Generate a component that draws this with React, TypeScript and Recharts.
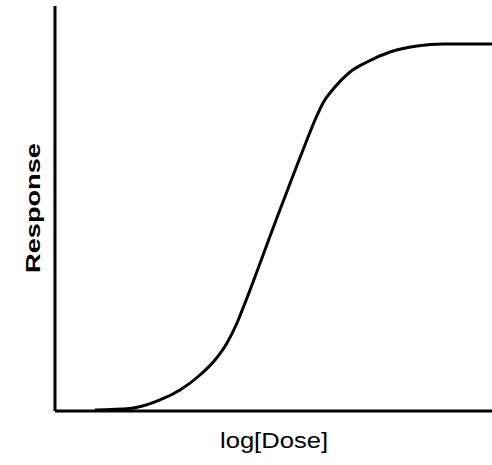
import React from 'react';
import { LineChart, Line, XAxis, YAxis, Label } from 'recharts';

const logDose = [9.15, 17.16, 24.03, 28.6, 33.18, 36.61, 39.36, 41.65, 43.48, 50.34, 56.75, 59.5, 61.33, 64.07, 67.51, 71.4, 76.66, 82.84, 88.79, 100];
const response = [0.25, 0.6, 2.72, 5.19, 8.89, 12.59, 16.79, 21.73, 26.67, 46.42, 64.44, 71.85, 76.05, 80.0, 83.7, 86.17, 88.64, 90.12, 90.62, 90.62];
const xTitle = 'log[Dose]';
const yTitle = 'Response';

const data = logDose.map((x, i) => ({ x, y: response[i] }));

const XTitle = () => (
  <text x={274} y={448} textAnchor="middle" fontFamily="'Liberation Sans', Arial, sans-serif" fontSize={22} fill="#000" textLength={108} lengthAdjust="spacingAndGlyphs">
    {xTitle}
  </text>
);

const YTitle = () => (
  <text x={40} y={208} transform="rotate(-90 40 208)" textAnchor="middle" fontFamily="'Liberation Sans', Arial, sans-serif" fontWeight="bold" fontSize={21} fill="#000" textLength={130} lengthAdjust="spacingAndGlyphs">
    {yTitle}
  </text>
);

export default function App() {
  return (
    <div style={{ position: 'absolute', left: 0, top: 0, background: '#fff' }}>
      <LineChart width={492} height={465} data={data} margin={{ top: 6, right: 0, bottom: 0, left: 0 }}>
        <XAxis dataKey="x" type="number" domain={[0, 100]} tick={false} tickLine={false} height={54} axisLine={{ stroke: '#000', strokeWidth: 3 }}>
          <Label content={<XTitle />} />
        </XAxis>
        <YAxis type="number" domain={[0, 100]} tick={false} tickLine={false} width={55} axisLine={{ stroke: '#000', strokeWidth: 3 }}>
          <Label content={<YTitle />} />
        </YAxis>
        <Line dataKey="y" type="monotone" stroke="#000" strokeWidth={3} dot={false} isAnimationActive={false} />
      </LineChart>
    </div>
  );
}
